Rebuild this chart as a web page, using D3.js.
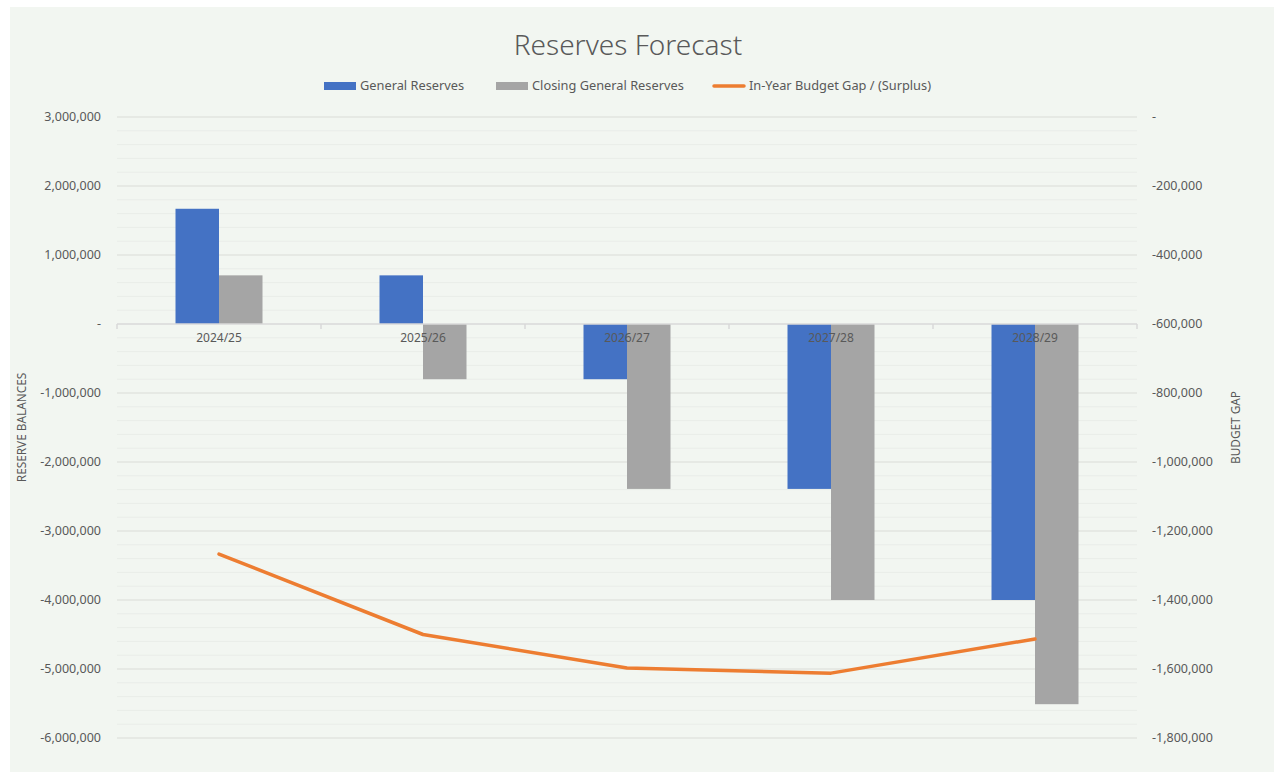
<!DOCTYPE html>
<html>
<head>
<meta charset="utf-8">
<script src="https://cdn.jsdelivr.net/npm/d3@7"></script>
<style>
  body { margin: 0; background: #ffffff; }
  svg { display: block; font-family: "Noto Sans", "Liberation Sans", sans-serif; }
</style>
</head>
<body>
<svg id="chart" width="1279" height="775"></svg>
<script>
const categories = ["2024/25", "2025/26", "2026/27", "2027/28", "2028/29"];
const generalReserves = [1670000, 705000, -800000, -2390000, -4000000];
const closingReserves = [705000, -800000, -2390000, -4000000, -5510000];
const budgetGap = [-1267000, -1500000, -1597000, -1612000, -1513000];
const leftTicks = [3000000, 2000000, 1000000, 0, -1000000, -2000000, -3000000, -4000000, -5000000, -6000000];
const rightTicks = [0, -200000, -400000, -600000, -800000, -1000000, -1200000, -1400000, -1600000, -1800000];

const svg = d3.select("#chart");
const margin = { top: 117, right: 142, bottom: 37, left: 117 };
const width = +svg.attr("width") - margin.left - margin.right;
const height = +svg.attr("height") - margin.top - margin.bottom;
const textColor = "#595959";

// chart background
svg.append("rect")
  .attr("x", 10).attr("y", 7)
  .attr("width", 1264).attr("height", 765)
  .attr("fill", "#f2f6f1");

const g = svg.append("g")
  .attr("transform", `translate(${margin.left},${margin.top})`);

const x = d3.scaleBand().domain(categories).range([0, width]);
const y = d3.scaleLinear().domain([-6000000, 3000000]).range([height, 0]);
const y2 = d3.scaleLinear().domain([-1800000, 0]).range([height, 0]);

// minor gridlines
const minor = d3.range(-6000000, 3000001, 200000).filter(v => v % 1000000 !== 0);
g.selectAll(".minor")
  .data(minor)
  .join("line")
  .attr("x1", 0).attr("x2", width)
  .attr("y1", d => y(d)).attr("y2", d => y(d))
  .attr("stroke", "#e9ede8")
  .attr("stroke-width", 1);

// major gridlines
g.selectAll(".major")
  .data(leftTicks.filter(d => d !== 0))
  .join("line")
  .attr("x1", 0).attr("x2", width)
  .attr("y1", d => y(d)).attr("y2", d => y(d))
  .attr("stroke", "#d9dcd8")
  .attr("stroke-width", 1.2);

// excel style: zero shown as a dash, plain hyphen for negatives
const fmt = d => d === 0 ? "-" : d3.format(",")(d).replace("\u2212", "-");

// left axis labels
g.selectAll(".ltick")
  .data(leftTicks)
  .join("text")
  .attr("x", -16)
  .attr("y", d => y(d))
  .attr("dy", "0.35em")
  .attr("text-anchor", "end")
  .attr("font-size", 12.5)
  .attr("fill", textColor)
  .text(fmt);

// right axis labels
g.selectAll(".rtick")
  .data(rightTicks)
  .join("text")
  .attr("x", width + 15)
  .attr("y", d => y2(d))
  .attr("dy", "0.35em")
  .attr("text-anchor", "start")
  .attr("font-size", 12.5)
  .attr("fill", textColor)
  .text(fmt);

// bars
const inner = d3.scaleBand()
  .domain(["general", "closing"])
  .range([0, x.bandwidth()])
  .paddingOuter(1.345)
  .paddingInner(0);

const barData = categories.flatMap((c, i) => [
  { cat: c, key: "general", value: generalReserves[i], color: "#4472c4" },
  { cat: c, key: "closing", value: closingReserves[i], color: "#a5a5a5" }
]);

g.selectAll(".bar")
  .data(barData)
  .join("rect")
  .attr("x", d => x(d.cat) + inner(d.key))
  .attr("y", d => y(Math.max(0, d.value)))
  .attr("width", inner.bandwidth())
  .attr("height", d => Math.abs(y(d.value) - y(0)))
  .attr("fill", d => d.color);

// category axis line + ticks
g.append("line")
  .attr("x1", 0).attr("x2", width)
  .attr("y1", y(0)).attr("y2", y(0))
  .attr("stroke", "#d9d9d9")
  .attr("stroke-width", 1.5);

g.selectAll(".ctick")
  .data(d3.range(categories.length + 1))
  .join("line")
  .attr("x1", i => i * x.step()).attr("x2", i => i * x.step())
  .attr("y1", y(0)).attr("y2", y(0) + 5)
  .attr("stroke", "#d9d9d9")
  .attr("stroke-width", 1.5);

g.selectAll(".clabel")
  .data(categories)
  .join("text")
  .attr("x", d => x(d) + x.bandwidth() / 2)
  .attr("y", y(0) + 18)
  .attr("text-anchor", "middle")
  .attr("font-size", 12)
  .attr("fill", textColor)
  .text(d => d);

// budget gap line
const line = d3.line()
  .x((d, i) => x(categories[i]) + x.bandwidth() / 2)
  .y(d => y2(d));

g.append("path")
  .datum(budgetGap)
  .attr("d", line)
  .attr("fill", "none")
  .attr("stroke", "#ed7d31")
  .attr("stroke-width", 3.5)
  .attr("stroke-linejoin", "round")
  .attr("stroke-linecap", "round");

// axis titles
svg.append("text")
  .attr("transform", `translate(26,${margin.top + height / 2}) rotate(-90)`)
  .attr("text-anchor", "middle")
  .attr("font-size", 11.8)
  .attr("fill", textColor)
  .text("RESERVE BALANCES");

svg.append("text")
  .attr("transform", `translate(1240,${margin.top + height / 2}) rotate(-90)`)
  .attr("text-anchor", "middle")
  .attr("font-size", 11.8)
  .attr("fill", textColor)
  .text("BUDGET GAP");

// title
svg.append("text")
  .attr("x", 628)
  .attr("y", 55)
  .attr("text-anchor", "middle")
  .attr("font-size", 28)
  .attr("font-weight", 300)
  .attr("fill", textColor)
  .text("Reserves Forecast");

// legend
const legendItems = [
  { label: "General Reserves", color: "#4472c4", type: "rect", x: 324 },
  { label: "Closing General Reserves", color: "#a5a5a5", type: "rect", x: 496 },
  { label: "In-Year Budget Gap / (Surplus)", color: "#ed7d31", type: "line", x: 713 }
];

const legend = svg.append("g").attr("transform", "translate(0,86)");
legendItems.forEach(item => {
  if (item.type === "rect") {
    legend.append("rect")
      .attr("x", item.x).attr("y", -4)
      .attr("width", 32).attr("height", 8)
      .attr("fill", item.color);
  } else {
    legend.append("line")
      .attr("x1", item.x + 1).attr("x2", item.x + 31)
      .attr("y1", 0).attr("y2", 0)
      .attr("stroke", item.color)
      .attr("stroke-width", 3.5)
      .attr("stroke-linecap", "round");
  }
  legend.append("text")
    .attr("x", item.x + 36)
    .attr("y", 0)
    .attr("dy", "0.35em")
    .attr("font-size", 12.8)
    .attr("fill", textColor)
    .text(item.label);
});
</script>
</body>
</html>
